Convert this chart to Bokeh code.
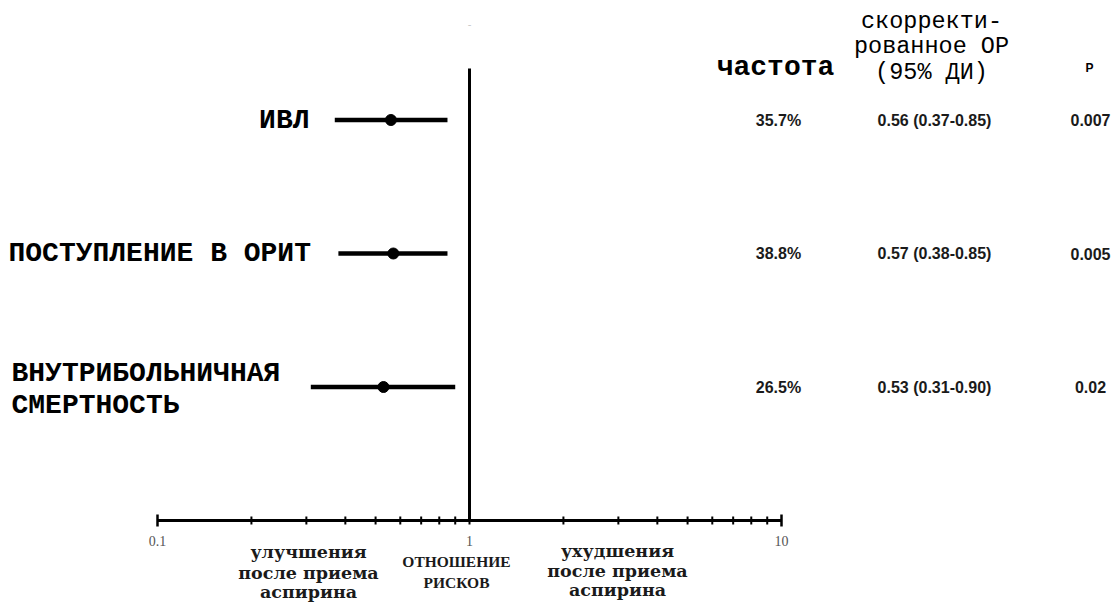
import numpy as np
from bokeh.plotting import figure
from bokeh.models import Range1d, LinearScale, ColumnDataSource
from bokeh.core.properties import value
from bokeh.embed import file_html
from bokeh.resources import INLINE

# ---------------- data ----------------
outcomes = ["ИВЛ", "ПОСТУПЛЕНИЕ В ОРИТ", "ВНУТРИБОЛЬНИЧНАЯ", "СМЕРТНОСТЬ"]
row_pos = [3, 2, 1]
odds_ratio = [0.56, 0.57, 0.53]
ci_low = [0.37, 0.38, 0.31]
ci_high = [0.85, 0.85, 0.90]
frequency = ["35.7%", "38.8%", "26.5%"]
or_text = ["0.56 (0.37-0.85)", "0.57 (0.38-0.85)", "0.53 (0.31-0.90)"]
p_values = ["0.007", "0.005", "0.02"]

major_ticks = [0.1, 10]
minor_ticks = [0.2, 0.3, 0.4, 0.5, 0.6, 0.7, 0.8, 0.9, 1, 2, 3, 4, 5, 6, 7, 8, 9]
tick_labels = ["0.1", "1", "10"]
tick_label_pos = [0.1, 1, 10]

header_or = ["скорректи-", "рованное ОР", "(95% ДИ)"]
left_note = ["улучшения", "после приема", "аспирина"]
mid_note = ["ОТНОШЕНИЕ", "РИСКОВ"]
right_note = ["ухудшения", "после приема", "аспирина"]

# ---------------- layout ----------------
W, H = 1120, 607
X01, X10 = 157, 781          # pixel positions of 0.1 and 10
DEC = (X10 - X01) / 2
AXIS_Y, ROW_STEP = 520, 133.5
x_start = 10 ** (-1 - X01 / DEC)
x_end = 10 ** (1 + (W - X10) / DEC)

p = figure(width=W, height=H, x_axis_type="log",
           x_range=Range1d(x_start, x_end),
           y_range=Range1d(-(H - AXIS_Y) / ROW_STEP, AXIS_Y / ROW_STEP),
           output_backend="svg", toolbar_location=None, min_border=0,
           x_axis_location=None, y_axis_location=None)
p.outline_line_color = None
p.xgrid.visible = False
p.ygrid.visible = False
p.background_fill_color = "white"
p.border_fill_color = "white"

p.extra_x_ranges = {"px": Range1d(0, W)}
p.extra_x_scales = {"px": LinearScale()}
p.extra_y_ranges = {"py": Range1d(H, 0)}
p.extra_y_scales = {"py": LinearScale()}

MONO = value("Liberation Mono")
SANS = value("Liberation Sans")
SERIF = value("Liberation Serif")
DSERIF = value("DejaVu Serif")

line_top = (AXIS_Y - 68) / ROW_STEP

# reference line at OR = 1
p.segment(x0=[1], y0=[0], x1=[1], y1=[line_top], line_color="black", line_width=3)
# axis line
p.segment(x0=[major_ticks[0]], y0=[0], x1=[major_ticks[-1]], y1=[0],
          line_color="black", line_width=3)
# ticks
p.scatter(x=minor_ticks, y=[0] * len(minor_ticks), marker="dash", angle=np.pi / 2,
          size=8, line_color="black", line_width=2)
p.scatter(x=major_ticks, y=[0] * len(major_ticks), marker="dash", angle=np.pi / 2,
          size=12, line_color="black", line_width=2.5)
p.text(x=tick_label_pos, y=[540] * 3, text=tick_labels, y_range_name="py",
       text_font=SERIF, text_font_size="14px", text_color="#555555",
       text_align="center", text_baseline="middle")
# faint mark above reference line
p.text(x=[1], y=[23], text=["-"], y_range_name="py", text_font=SANS,
       text_font_size="11px", text_color="#c8c8c8", text_align="center",
       text_baseline="middle")

# CI lines and points
src = ColumnDataSource(dict(y=row_pos, orv=odds_ratio, lo=ci_low, hi=ci_high))
p.segment(x0="lo", y0="y", x1="hi", y1="y", source=src, line_color="black",
          line_width=4.5)
p.scatter(x="orv", y="y", source=src, size=11, fill_color="black",
          line_color="black")

# outcome labels
lab = dict(text_font=MONO, text_font_size="28px", text_font_style="bold",
           text_baseline="middle", text_color="black")
p.text(x=[309], y=[row_pos[0]], text=[outcomes[0]], x_range_name="px",
       text_align="right", **lab)
p.text(x=[8], y=[row_pos[1]], text=[outcomes[1]], x_range_name="px",
       text_align="left", **lab)
p.text(x=[11, 11], y=[373, 405], text=outcomes[2:], x_range_name="px",
       y_range_name="py", text_align="left", **lab)

# table headers
p.text(x=[775], y=[67], text=["частота"], x_range_name="px", y_range_name="py",
       text_align="center", **lab)
p.text(x=[931] * 3, y=[21, 46, 72], text=header_or, x_range_name="px",
       y_range_name="py", text_font=MONO, text_font_size="23.5px",
       text_align="center", text_baseline="middle", text_color="black")
p.text(x=[1089], y=[67], text=["P"], x_range_name="px", y_range_name="py",
       text_font=SANS, text_font_size="12px", text_font_style="bold",
       text_align="center", text_baseline="middle", text_color="black")

# table values
for col_x, vals in [(778, frequency), (934, or_text), (1090, p_values)]:
    p.text(x=[col_x] * 3, y=row_pos, text=vals, x_range_name="px",
           text_font=SANS, text_font_size="16px", text_font_style="bold",
           text_align="center", text_baseline="middle", text_color="#1a1a1a")

# notes below the axis
note = dict(x_range_name="px", y_range_name="py", text_align="center",
            text_baseline="middle", text_color="#1a1a1a", text_font_style="bold")
p.text(x=[308] * 3, y=[551, 572, 591], text=left_note, text_font=DSERIF,
       text_font_size="17.5px", **note)
p.text(x=[456] * 2, y=[561, 582], text=mid_note, text_font=SERIF,
       text_font_size="15.5px", **note)
p.text(x=[617] * 3, y=[550, 570, 589], text=right_note, text_font=DSERIF,
       text_font_size="17.5px", **note)

open("out.html", "w").write(file_html(p, INLINE))
